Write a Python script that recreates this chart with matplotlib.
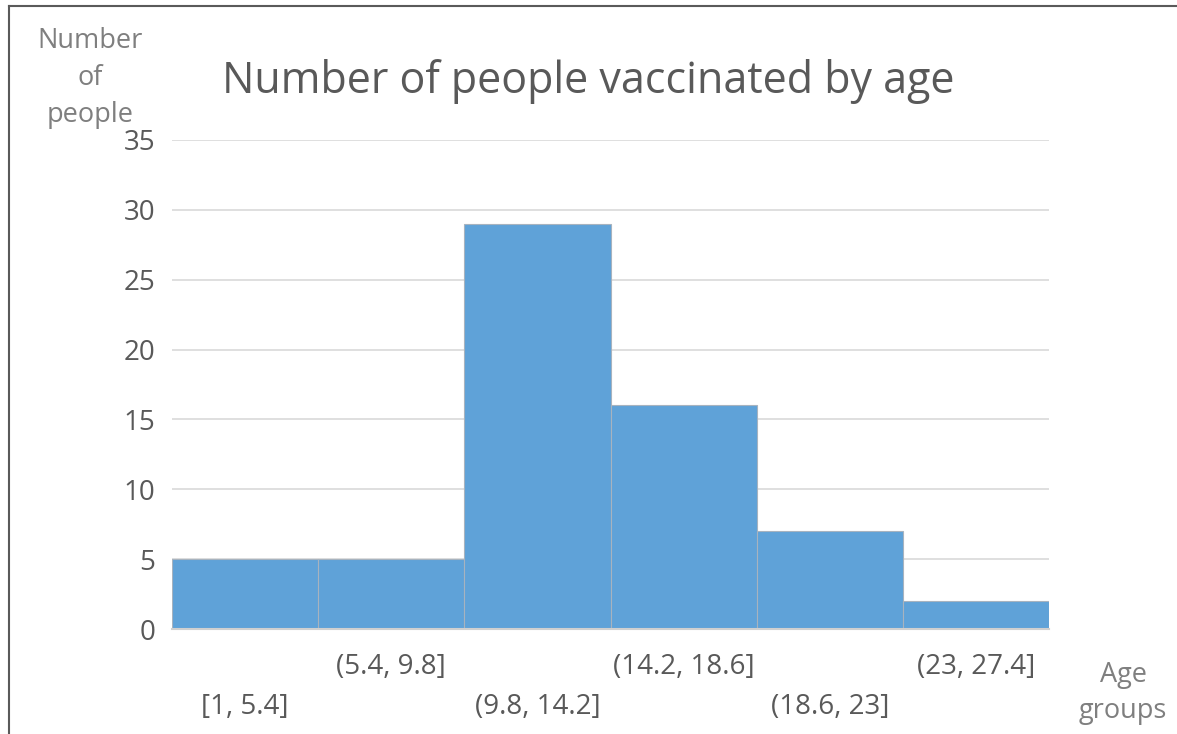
import matplotlib.pyplot as plt
import numpy as np
from matplotlib.lines import Line2D

plt.rcParams['font.family'] = ['Open Sans', 'DejaVu Sans']

age_groups = ["[1, 5.4]", "(5.4, 9.8]", "(9.8, 14.2]", "(14.2, 18.6]", "(18.6, 23]", "(23, 27.4]"]
counts = [5, 5, 29, 16, 7, 2]
y_ticks = [0, 5, 10, 15, 20, 25, 30, 35]

text_color = "#595959"

fig = plt.figure(figsize=(11.77, 7.34), dpi=100)
W, H = 1177, 734
ax = fig.add_axes([172 / W, 1 - 629 / H, (1049 - 172) / W, (629 - 140) / H])

x = np.arange(len(age_groups))
ax.bar(x, counts, width=1.0, color="#5fa2d8", edgecolor="#a7b3bf", linewidth=0.8, zorder=3)
ax.set_xlim(-0.5, len(age_groups) - 0.5)
ax.set_ylim(0, 35)
ax.set_yticks(y_ticks)
ax.set_yticklabels([str(v) for v in y_ticks], fontsize=20, color=text_color)
ax.tick_params(axis="y", length=0, pad=12)
ax.grid(axis="y", color="#d9d9d9", linewidth=1.2, zorder=0)
for s in ["top", "right", "left"]:
    ax.spines[s].set_visible(False)
ax.spines["bottom"].set_color("#d0d0d0")
ax.spines["bottom"].set_linewidth(1.5)
ax.spines["bottom"].set_zorder(4)

# staggered category labels
ax.set_xticks(x)
ax.set_xticklabels([])
ax.tick_params(axis="x", length=0)
for i, lab in enumerate(age_groups):
    ypx = 707 if i % 2 == 0 else 667
    fig.text((172 + (i + 0.5) * (1049 - 172) / 6) / W, 1 - ypx / H, lab,
             ha="center", va="center", fontsize=20, color=text_color)

fig.text(588 / W, 1 - 82 / H, "Number of people vaccinated by age",
         ha="center", va="center", fontsize=31, color=text_color)
fig.text(90 / W, 1 - 78 / H, "Number\nof\npeople", ha="center", va="center",
         fontsize=19.5, color="#7f7f7f", linespacing=1.42)
fig.text(1123 / W, 1 - 693 / H, "Age\ngroups", ha="center", va="center",
         fontsize=19.5, color="#7f7f7f", linespacing=1.4)

# outer frame (top and left edges visible in the reference)
fig.add_artist(Line2D([9 / W, 1.0], [1 - 6 / H, 1 - 6 / H], color="#5a5a5a", linewidth=1.5))
fig.add_artist(Line2D([9 / W, 9 / W], [0, 1 - 6 / H], color="#5a5a5a", linewidth=1.5))

fig.savefig("out.png", dpi=100)
